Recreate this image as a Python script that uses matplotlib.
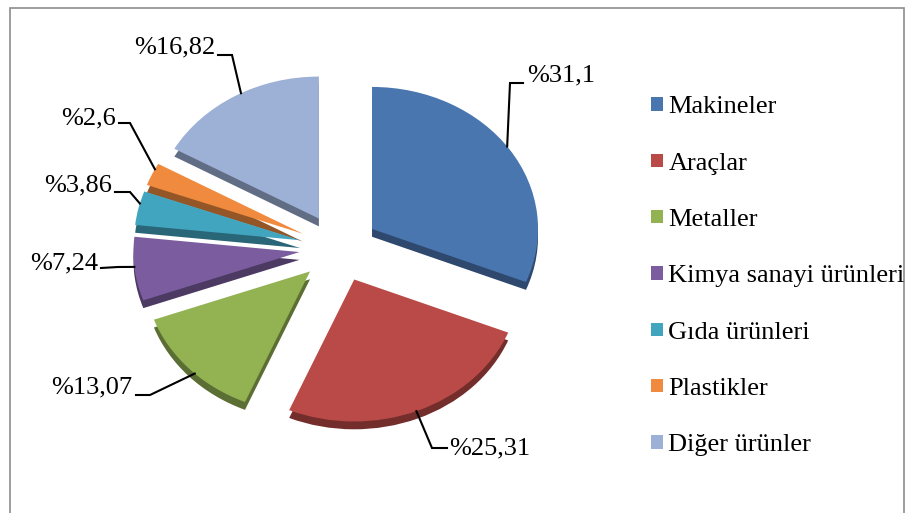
import numpy as np
import matplotlib
matplotlib.use('Agg')
import matplotlib.pyplot as plt
from matplotlib.patches import Rectangle
from matplotlib.colors import to_rgb

plt.rcParams['font.family'] = ['Liberation Serif', 'DejaVu Serif']

# data
categories = ['Makineler', 'Araçlar', 'Metaller', 'Kimya sanayi ürünleri',
              'Gıda ürünleri', 'Plastikler', 'Diğer ürünler']
values = [31.1, 25.31, 13.07, 7.24, 3.86, 2.6, 16.82]
value_labels = ['%31,1', '%25,31', '%13,07', '%7,24', '%3,86', '%2,6', '%16,82']
colors = ['#4a76b0', '#b94a47', '#93b252', '#7b5d9f', '#42a5c0', '#ef8a3e', '#9db0d6']
explode = [0.24] * 7

# pixel scale of the (squashed) pie: x units, y units, centre
RX, RY, CX, CY = 166, 142, 339, 248


def to_data(px, py):
    return (px - CX) / RX, (CY - py) / RY


# leader-line layout in pixels: anchor angle on the arc, elbow, line end, text position, alignment
label_layout = [
    (35.5, (510, 83), (523, 83), (527, 75), 'left'),
    (-68,  (432, 448), (447, 448), (449, 448), 'left'),
    (-134, (150, 395), (136, 395), (132, 387), 'right'),
    (-174, (118, 267), (101, 268), (98, 263), 'right'),
    (165,  (130, 192), (115, 192), (112, 185), 'right'),
    (153,  (130, 123), (119, 123), (116, 118), 'right'),
    (118,  (232, 55), (218, 55), (215, 47), 'right'),
]

fig = plt.figure(figsize=(9.09, 5.13), dpi=100)
ax = fig.add_axes([0, 0, 1, 1])

# 3D depth: darker copy slightly lower
dark = [tuple(c * 0.62 for c in to_rgb(col)) for col in colors]
ax.pie(values, colors=dark, explode=explode, startangle=90, counterclock=False,
       center=(0, -0.055), wedgeprops=dict(linewidth=0))
wedges, _ = ax.pie(values, colors=colors, explode=explode, startangle=90,
                   counterclock=False, wedgeprops=dict(linewidth=0))

ax.set_aspect('auto')
ax.set_xlim(-CX / RX, (909 - CX) / RX)
ax.set_ylim(-(513 - CY) / RY, CY / RY)
ax.axis('off')

total = sum(values)
start = 90.0
for i, v in enumerate(values):
    span = v / total * 360
    mid = np.deg2rad(start - span / 2)
    cx, cy = explode[i] * np.cos(mid), explode[i] * np.sin(mid)
    ang, elbow, end, tpos, ha = label_layout[i]
    a = np.deg2rad(ang)
    ex, ey = to_data(*elbow)
    nx, ny = to_data(*end)
    tx, ty = to_data(*tpos)
    ax.plot([cx + np.cos(a), ex, nx], [cy + np.sin(a), ey, ny], color='black', lw=1.5,
            solid_joinstyle='miter')
    ax.text(tx, ty, value_labels[i], ha=ha, va='center', fontsize=19)
    start -= span

fig.legend(wedges, categories, loc='upper left', bbox_to_anchor=(0.716, 0.812),
           frameon=False, fontsize=19, handlelength=0.46, handleheight=0.4,
           handletextpad=0.2, labelspacing=1.3, borderpad=0, borderaxespad=0)

fig.patches.append(Rectangle((0.011, -0.02), 0.984, 1.005, transform=fig.transFigure,
                             fill=False, edgecolor='#8c8c8c', lw=1.2))

fig.savefig('out.png', dpi=100)
